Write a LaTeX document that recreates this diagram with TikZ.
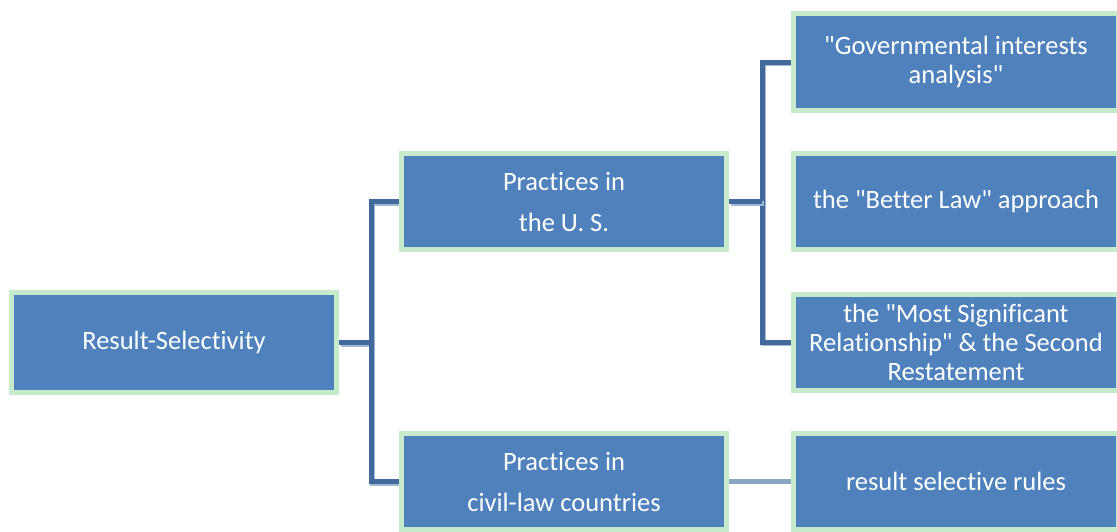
\documentclass[tikz,border=0pt]{standalone}
\usepackage{fontspec}
\setmainfont{Carlito}[Ligatures={TeXOff,NoCommon}]
\usetikzlibrary{backgrounds}
\definecolor{boxblue}{HTML}{4F81BD}
\definecolor{boxrim}{HTML}{C6EBCB}
\definecolor{linkblue}{HTML}{41699C}
\definecolor{linkshade}{HTML}{A3B8D4}
\tikzset{
    box/.style={draw=boxrim, line width=5pt, fill=boxblue, text=white,
        minimum width=325pt, minimum height=96pt, align=center,
        font=\fontsize{26.5}{29}\selectfont, inner sep=0pt},
    link/.style={draw=linkblue, line width=5pt,
        preaction={draw=linkshade, line width=5pt, transform canvas={shift={(1.5pt,-1.5pt)}}}},
    paleLink/.style={draw=linkshade!75!linkblue, line width=5pt}
}
\begin{document}
\begin{tikzpicture}[x=1pt, y=-1pt]
    % the frame
    \useasboundingbox (0,0) rectangle (1117,531);
    % the boxes
    \node[box, minimum height=100pt] (root) at (174,342.5) {Result-Selectivity};
    \node[box] (us) at (564,201.5) {Practices in\\[12pt]the U. S.};
    \node[box] (civil) at (564,481.5) {Practices in\\[12pt]civil-law countries};
    \node[box, minimum height=97pt] (gov) at (956,62) {"Governmental interests\\analysis"};
    \node[box] (better) at (956,201.5) {the "Better Law" approach};
    \node[box] (most) at (956,342) {the "Most Significant\\Relationship" \& the Second\\Restatement};
    \node[box] (rules) at (956,481.5) {result selective rules};

    % the links
    \begin{scope}[on background layer]
        \draw[link] (root.east) -- ++(31,0) coordinate (trunk);
        \draw[link] (us.west) -- ++(-28,0) |- (civil.west);
        \draw[link] (gov.west) -- ++(-29,0) |- (most.west);
        \draw[link] (us.east) -- ++(33,0);
        \draw[paleLink] (civil.east) -- (rules.west);
    \end{scope}
\end{tikzpicture}
\end{document}
